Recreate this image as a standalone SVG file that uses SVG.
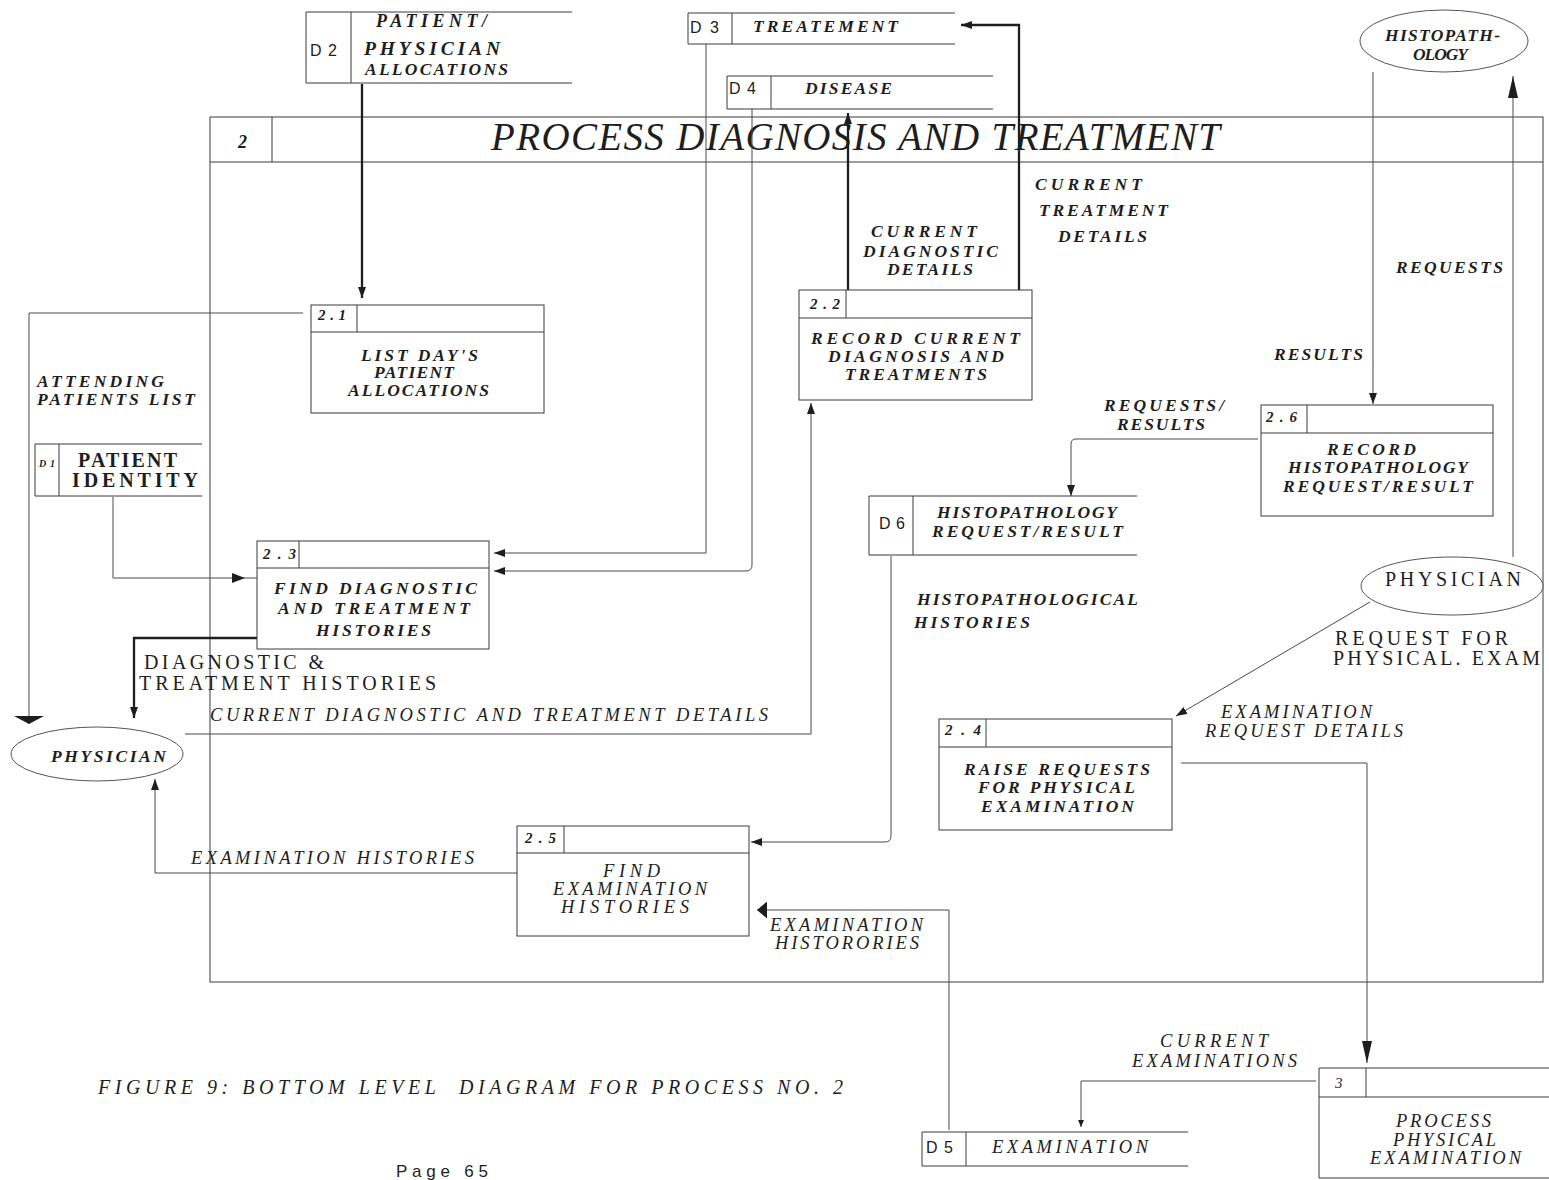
<svg xmlns="http://www.w3.org/2000/svg" width="1549" height="1180" viewBox="0 0 1549 1180">
<style>
.bi{font-family:"Liberation Serif",serif;font-style:italic;font-weight:bold;font-size:17.5px;fill:#1e1e1e}
.it{font-family:"Liberation Serif",serif;font-style:italic;font-size:18.5px;fill:#1e1e1e}
.rm{font-family:"Liberation Serif",serif;font-size:20px;fill:#1e1e1e}
.sn{font-family:"Liberation Sans",sans-serif;font-size:16px;fill:#1e1e1e}
.nm{font-size:15px}
.bx{fill:none;stroke:#3a3a3a;stroke-width:1}
.pb{fill:#fff;stroke:#3a3a3a;stroke-width:1}
.ln{fill:none;stroke:#4a4a4a;stroke-width:1}
.tk{fill:none;stroke:#1e1e1e;stroke-width:2.3}
.el{fill:#fff;stroke:#555;stroke-width:1}
</style>
<defs>
<marker id="a" viewBox="0 0 10 10" refX="10" refY="5" markerWidth="11" markerHeight="8" markerUnits="userSpaceOnUse" orient="auto" preserveAspectRatio="none"><path d="M0,0L10,5L0,10z" fill="#1e1e1e"/></marker>
<marker id="sm" viewBox="0 0 10 10" refX="10" refY="5" markerWidth="7" markerHeight="6" markerUnits="userSpaceOnUse" orient="auto" preserveAspectRatio="none"><path d="M0,0L10,5L0,10z" fill="#1e1e1e"/></marker>
<marker id="md" viewBox="0 0 10 10" refX="10" refY="5" markerWidth="13" markerHeight="10" markerUnits="userSpaceOnUse" orient="auto" preserveAspectRatio="none"><path d="M0,0L10,5L0,10z" fill="#1e1e1e"/></marker>
<marker id="lg" viewBox="0 0 10 10" refX="10" refY="5" markerWidth="22" markerHeight="10" markerUnits="userSpaceOnUse" orient="auto" preserveAspectRatio="none"><path d="M0,0L10,5L0,10z" fill="#1e1e1e"/></marker>
<marker id="lf" viewBox="0 0 10 10" refX="10" refY="5" markerWidth="10" markerHeight="17" markerUnits="userSpaceOnUse" orient="auto" preserveAspectRatio="none"><path d="M0,0L10,5L0,10z" fill="#1e1e1e"/></marker>
<marker id="wd" viewBox="0 0 10 10" refX="10" refY="5" markerWidth="8" markerHeight="30" markerUnits="userSpaceOnUse" orient="auto" preserveAspectRatio="none"><path d="M0,0L10,5L0,10z" fill="#1e1e1e"/></marker>
</defs>
<rect width="1549" height="1180" fill="#fff"/>

<g id="process-2">
<rect class="bx" x="210" y="117" width="1333" height="865"/>
<path class="bx" d="M210,162H1543M272,117V162"/>
<text class="it" x="238" y="148" style="font-weight:bold;font-size:18px">2</text>
<text class="it" x="491" y="150" style="font-size:39px" textLength="729">PROCESS DIAGNOSIS AND TREATMENT</text>
</g>

<g id="connectors">
<path class="tk" d="M362,84V298" marker-end="url(#a)"/>
<path class="tk" d="M848,290V113" marker-end="url(#a)"/>
<path class="tk" d="M1019,290V25H961" marker-end="url(#a)"/>
<path class="ln" d="M706,44V553H494" marker-end="url(#a)"/>
<path class="ln" d="M752,109V565Q752,571 746,571H494" marker-end="url(#a)"/>
<path class="ln" d="M303,313H29V724" marker-end="url(#wd)"/>
<path class="ln" d="M113,497V578H245" marker-end="url(#md)"/>
<path class="ln" d="M245,578H257"/>
<path class="tk" d="M257,638H134V718" marker-end="url(#a)"/>
<path class="ln" d="M185,734H811V403" marker-end="url(#a)"/>
<path class="ln" d="M517,873H155V779" marker-end="url(#a)"/>
<path class="ln" d="M891,556V836Q891,842 885,842H751" marker-end="url(#a)"/>
<path class="ln" d="M1258,439H1076Q1071,439 1071,444V496" marker-end="url(#a)"/>
<path class="ln" d="M1373,72V404" marker-end="url(#a)"/>
<path class="ln" d="M1513,557V76" marker-end="url(#lg)"/>
<path class="ln" d="M1370,602L1176,716" marker-end="url(#a)"/>
<path class="ln" d="M1181,763H1367V1063" marker-end="url(#lg)"/>
<path class="ln" d="M1316,1081H1081V1127" marker-end="url(#sm)"/>
<path class="ln" d="M949,1130V910H757" marker-end="url(#lf)"/>

<text class="bi" x="871" y="237" textLength="106">CURRENT</text>
<text class="bi" x="863" y="257" textLength="135">DIAGNOSTIC</text>
<text class="bi" x="887" y="275" textLength="86">DETAILS</text>
<text class="bi" x="1035" y="190" textLength="107">CURRENT</text>
<text class="bi" x="1039" y="216" textLength="129">TREATMENT</text>
<text class="bi" x="1058" y="242" textLength="89">DETAILS</text>
<text class="bi" x="1396" y="273" textLength="107">REQUESTS</text>
<text class="bi" x="1274" y="360" textLength="89">RESULTS</text>
<text class="bi" x="1104" y="411" textLength="120">REQUESTS/</text>
<text class="bi" x="1117" y="430" textLength="88">RESULTS</text>
<text class="bi" x="37" y="387" textLength="127">ATTENDING</text>
<text class="bi" x="37" y="405" textLength="158">PATIENTS LIST</text>
<text class="rm" x="144" y="669" textLength="180">DIAGNOSTIC &amp;</text>
<text class="rm" x="139" y="690" textLength="297">TREATMENT HISTORIES</text>
<text class="it" x="210" y="721" textLength="558">CURRENT DIAGNOSTIC AND TREATMENT DETAILS</text>
<text class="bi" x="917" y="605" textLength="221">HISTOPATHOLOGICAL</text>
<text class="bi" x="914" y="628" textLength="116">HISTORIES</text>
<text class="rm" x="1335" y="645" textLength="173">REQUEST FOR</text>
<text class="rm" x="1333" y="665" textLength="207">PHYSICAL. EXAM</text>
<text class="it" x="1221" y="718" textLength="151">EXAMINATION</text>
<text class="it" x="1205" y="737" textLength="198">REQUEST DETAILS</text>
<text class="it" x="191" y="864" textLength="283">EXAMINATION HISTORIES</text>
<text class="it" x="770" y="931" textLength="153">EXAMINATION</text>
<text class="it" x="775" y="949" textLength="144">HISTORORIES</text>
<text class="it" x="1160" y="1047" textLength="108">CURRENT</text>
<text class="it" x="1132" y="1067" textLength="165">EXAMINATIONS</text>
</g>

<g id="d2">
<path class="bx" d="M572,12H306V83H572M351,12V83"/>
<text class="sn" x="310" y="56" textLength="27">D2</text>
<text class="bi" x="376" y="27" style="font-size:18px" textLength="111">PATIENT/</text>
<text class="bi" x="364" y="55" style="font-size:19.5px" textLength="136">PHYSICIAN</text>
<text class="bi" x="365" y="75" textLength="143">ALLOCATIONS</text>
</g>

<g id="d3">
<path class="bx" d="M955,13H688V44H955M732,13V44"/>
<text class="sn" x="690" y="33" textLength="29">D3</text>
<text class="bi" x="753" y="32" textLength="145">TREATEMENT</text>
</g>

<g id="d4">
<path class="bx" d="M993,76H727V109H993M771,76V109"/>
<text class="sn" x="729" y="94" textLength="27">D4</text>
<text class="bi" x="805" y="94" textLength="87">DISEASE</text>
</g>

<g id="histopathology">
<ellipse class="el" cx="1444" cy="41" rx="84" ry="31"/>
<text class="bi" x="1385" y="41" textLength="115">HISTOPATH-</text>
<text class="bi" x="1413" y="60" textLength="55">OLOGY</text>
</g>

<g id="p2-1">
<rect class="pb" x="311" y="305" width="233" height="108"/>
<path class="bx" d="M311,332H544M357,305V332"/>
<text class="bi nm" x="318" y="320" textLength="28">2.1</text>
<text class="bi" x="361" y="361" textLength="117">LIST DAY'S</text>
<text class="bi" x="374" y="378" textLength="80">PATIENT</text>
<text class="bi" x="348" y="396" textLength="141">ALLOCATIONS</text>
</g>

<g id="p2-2">
<rect class="pb" x="799" y="290" width="233" height="110"/>
<path class="bx" d="M799,318H1032M846,290V318"/>
<text class="bi nm" x="810" y="309" textLength="30">2.2</text>
<text class="bi" x="811" y="344" textLength="209">RECORD CURRENT</text>
<text class="bi" x="828" y="362" textLength="176">DIAGNOSIS AND</text>
<text class="bi" x="845" y="380" textLength="142">TREATMENTS</text>
</g>

<g id="d1">
<path class="bx" d="M202,444H35V496H202M59,444V496"/>
<text class="bi" x="39" y="467" style="font-size:10px" textLength="16">D1</text>
<text class="rm" x="78" y="467" style="font-size:20px;font-weight:bold" textLength="99">PATIENT</text>
<text class="rm" x="72" y="487" style="font-size:20px;font-weight:bold" textLength="126">IDENTITY</text>
</g>

<g id="p2-6">
<rect class="pb" x="1261" y="405" width="232" height="111"/>
<path class="bx" d="M1261,433H1493M1307,405V433"/>
<text class="bi nm" x="1266" y="422" textLength="31">2.6</text>
<text class="bi" x="1327" y="455" textLength="89">RECORD</text>
<text class="bi" x="1288" y="473" textLength="180">HISTOPATHOLOGY</text>
<text class="bi" x="1283" y="492" textLength="190">REQUEST/RESULT</text>
</g>

<g id="d6">
<path class="bx" d="M1137,496H869V555H1137M913,496V555"/>
<text class="sn" x="879" y="529" textLength="26">D6</text>
<text class="bi" x="937" y="518" textLength="180">HISTOPATHOLOGY</text>
<text class="bi" x="932" y="537" textLength="191">REQUEST/RESULT</text>
</g>

<g id="p2-3">
<rect class="pb" x="257" y="541" width="232" height="108"/>
<path class="bx" d="M257,568H489M299,541V568"/>
<text class="bi nm" x="263" y="559" textLength="33">2.3</text>
<text class="bi" x="274" y="594" textLength="203">FIND DIAGNOSTIC</text>
<text class="bi" x="278" y="614" textLength="192">AND TREATMENT</text>
<text class="bi" x="316" y="636" textLength="115">HISTORIES</text>
</g>

<g id="physician-left">
<ellipse class="el" cx="97" cy="754" rx="86" ry="27"/>
<text class="bi" x="51" y="762" textLength="115">PHYSICIAN</text>
</g>

<g id="physician-right">
<ellipse class="el" cx="1452" cy="586" rx="91" ry="29"/>
<text class="rm" x="1385" y="586" textLength="136">PHYSICIAN</text>
</g>

<g id="p2-4">
<rect class="pb" x="939" y="719" width="233" height="111"/>
<path class="bx" d="M939,747H1172M986,719V747"/>
<text class="bi nm" x="945" y="735" textLength="36">2.4</text>
<text class="bi" x="964" y="775" textLength="186">RAISE REQUESTS</text>
<text class="bi" x="978" y="793" textLength="157">FOR PHYSICAL</text>
<text class="bi" x="981" y="812" textLength="153">EXAMINATION</text>
</g>

<g id="p2-5">
<rect class="pb" x="517" y="826" width="232" height="110"/>
<path class="bx" d="M517,853H749M564,826V853"/>
<text class="bi nm" x="525" y="843" textLength="31">2.5</text>
<text class="it" x="603" y="877" textLength="57">FIND</text>
<text class="it" x="553" y="895" textLength="154">EXAMINATION</text>
<text class="it" x="561" y="913" textLength="128">HISTORIES</text>
</g>

<g id="d5">
<path class="bx" d="M1188,1132H922V1166H1188M966,1132V1166"/>
<text class="sn" x="926" y="1153" textLength="27">D5</text>
<text class="it" x="992" y="1153" textLength="156">EXAMINATION</text>
</g>

<g id="p3">
<path class="bx" d="M1549,1068H1319V1178H1549M1319,1097H1549M1366,1068V1097"/>
<text class="it" x="1335" y="1088" style="font-size:15px">3</text>
<text class="it" x="1396" y="1127" textLength="95">PROCESS</text>
<text class="it" x="1393" y="1146" textLength="103">PHYSICAL</text>
<text class="it" x="1370" y="1164" textLength="151">EXAMINATION</text>
</g>

<g id="caption">
<text class="it" x="98" y="1094" style="font-size:20px;white-space:pre" textLength="745">FIGURE 9: BOTTOM LEVEL  DIAGRAM FOR PROCESS NO. 2</text>
<text class="sn" x="396" y="1177" style="font-size:17px" textLength="92">Page 65</text>
</g>
</svg>
